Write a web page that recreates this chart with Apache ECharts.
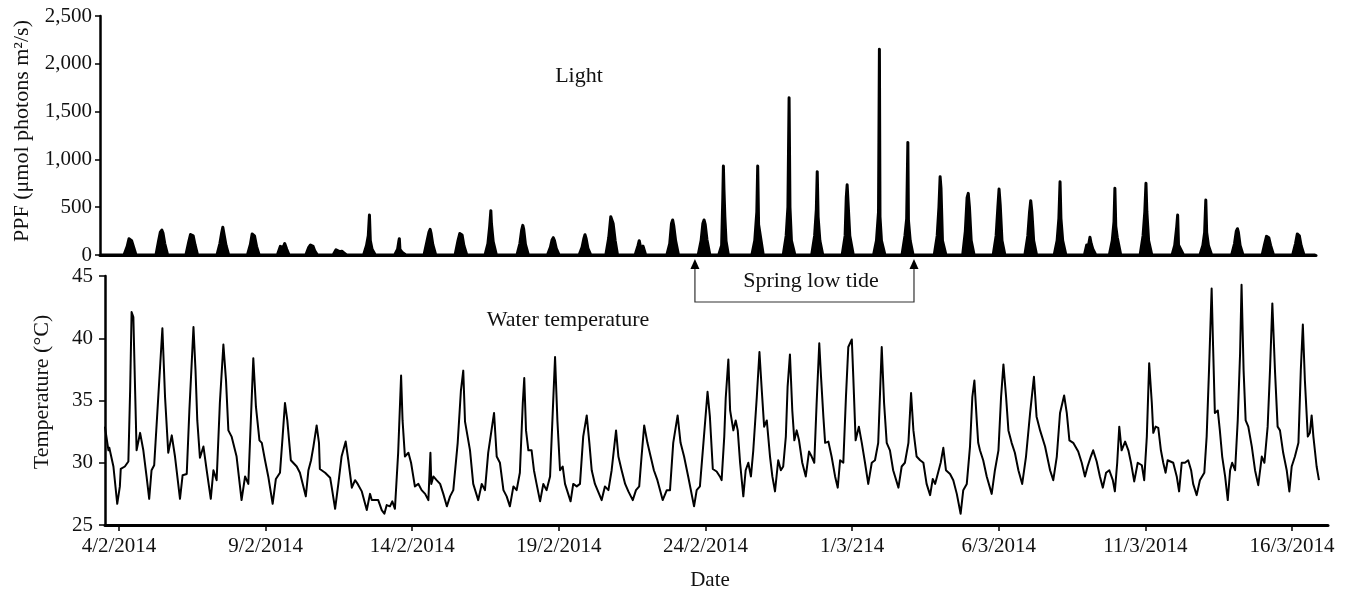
<!DOCTYPE html>
<html><head><meta charset="utf-8">
<script src="https://cdn.jsdelivr.net/npm/echarts/dist/echarts.min.js"></script>
<style>html,body{margin:0;padding:0;background:#fff}#c{width:1359px;height:594px}</style>
</head><body><div id="c"></div>
<script>
// x values are days after 4/2/2014 00:00
const tickDays = [0,5,10,15,20,25,30,35,40];
const tickLabels = ['4/2/2014','9/2/2014','14/2/2014','19/2/2014','24/2/2014','1/3/214','6/3/2014','11/3/2014','16/3/2014'];
const ppfTicks = [0,500,1000,1500,2000,2500];
const tempTicks = [25,30,35,40,45];
const tideDays = [19.64, 27.11];

const lightSeries = [
[-0.64,0],
[0.17,0],[0.28,90],[0.34,170],[0.38,185],[0.43,150],[0.48,100],[0.58,0],
[1.26,0],[1.35,150],[1.41,240],[1.46,261],[1.5,230],[1.56,120],[1.66,0],
[2.28,0],[2.38,140],[2.44,215],[2.48,227],[2.53,200],[2.59,110],[2.68,0],
[3.34,0],[3.44,120],[3.5,230],[3.54,290],[3.58,220],[3.65,100],[3.74,0],
[4.38,0],[4.48,110],[4.54,220],[4.58,237],[4.62,200],[4.69,90],[4.78,0],
[5.4,0],[5.5,90],[5.56,100],[5.6,80],[5.65,120],[5.72,60],[5.8,0],
[6.37,0],[6.47,80],[6.53,105],[6.57,100],[6.62,90],[6.68,40],[6.77,0],
[7.3,0],[7.4,55],[7.46,60],[7.52,35],[7.6,40],[7.68,20],[7.76,0],
[8.34,0],[8.44,100],[8.5,200],[8.54,418],[8.57,150],[8.63,60],[8.74,0],
[9.4,0],[9.5,60],[9.54,140],[9.56,171],[9.58,60],[9.65,30],[9.78,0],
[10.4,0],[10.5,140],[10.57,240],[10.61,269],[10.64,230],[10.7,110],[10.8,0],
[11.46,0],[11.56,150],[11.62,225],[11.66,237],[11.7,210],[11.76,100],[11.86,0],
[12.48,0],[12.58,120],[12.64,300],[12.68,464],[12.7,330],[12.76,140],[12.87,0],
[13.57,0],[13.67,120],[13.73,260],[13.77,310],[13.8,270],[13.86,110],[13.96,0],
[14.61,0],[14.71,80],[14.77,160],[14.81,181],[14.85,150],[14.91,70],[15.01,0],
[15.69,0],[15.79,80],[15.85,170],[15.89,212],[15.93,170],[15.99,70],[16.09,0],
[16.6,0],[16.7,180],[16.77,400],[16.8,418],[16.85,330],[16.92,150],[17.0,0],
[17.6,0],[17.7,100],[17.74,150],[17.77,140],[17.8,60],[17.87,92],[17.96,0],
[18.68,0],[18.78,120],[18.84,330],[18.88,366],[18.92,300],[18.98,150],[19.08,0],
[19.75,0],[19.85,150],[19.91,330],[19.95,366],[19.99,320],[20.05,160],[20.15,0],
[20.45,0],[20.55,100],[20.59,600],[20.61,931],[20.63,680],[20.66,400],[20.7,146],[20.78,0],
[21.58,0],[21.68,150],[21.75,450],[21.78,931],[21.81,320],[21.87,314],[21.97,0],
[22.65,0],[22.75,200],[22.81,500],[22.85,1646],[22.88,500],[22.93,150],[23.05,0],
[23.62,0],[23.72,200],[23.78,480],[23.81,872],[23.84,400],[23.9,150],[24.0,0],
[24.66,0],[24.76,200],[24.8,600],[24.83,735],[24.86,750],[24.92,200],[25.04,0],
[25.73,0],[25.83,150],[25.9,450],[25.93,2151],[25.95,400],[26.0,150],[26.12,0],
[26.7,0],[26.8,200],[26.86,380],[26.9,1178],[26.92,366],[26.98,150],[27.08,0],
[27.8,0],[27.9,200],[27.96,500],[28.0,819],[28.03,700],[28.08,150],[28.2,0],
[28.77,0],[28.86,250],[28.92,600],[28.96,645],[29.0,500],[29.06,150],[29.16,0],
[29.81,0],[29.91,200],[29.97,500],[30.01,690],[30.05,523],[30.11,150],[30.21,0],
[30.89,0],[30.99,200],[31.05,450],[31.09,568],[31.13,450],[31.19,150],[31.29,0],
[31.89,0],[31.99,150],[32.05,384],[32.09,767],[32.12,384],[32.18,150],[32.29,0],
[32.92,0],[33.0,105],[33.05,80],[33.11,185],[33.15,120],[33.21,60],[33.31,0],
[33.77,0],[33.87,150],[33.93,350],[33.96,698],[33.99,300],[34.04,185],[34.16,0],
[34.82,0],[34.92,200],[34.98,450],[35.02,750],[35.05,453],[35.11,150],[35.22,0],
[35.91,0],[36.0,100],[36.07,300],[36.1,418],[36.13,105],[36.19,100],[36.3,0],
[36.86,0],[36.96,100],[37.02,237],[37.06,575],[37.09,237],[37.15,100],[37.26,0],
[37.94,0],[38.04,120],[38.1,250],[38.14,275],[38.17,240],[38.23,100],[38.33,0],
[38.98,0],[39.07,120],[39.13,195],[39.17,199],[39.21,180],[39.27,100],[39.37,0],
[40.02,0],[40.12,120],[40.18,220],[40.22,233],[40.25,200],[40.31,100],[40.41,0],
[40.8,0]
];

const tempSeries = [
[-0.48,32.9],[-0.36,31.0],[-0.33,31.2],[-0.19,29.7],[-0.06,26.7],[0.03,28.1],[0.06,29.5],[0.2,29.7],[0.32,30.1],[0.38,35.8],[0.43,42.1],[0.49,41.7],[0.55,35.8],[0.6,31.0],[0.72,32.4],[0.83,31.0],[0.94,28.9],[1.03,27.1],[1.11,29.4],[1.2,29.8],[1.34,35.3],[1.48,40.8],[1.57,35.3],[1.68,30.8],[1.8,32.2],[1.91,30.5],[2.08,27.1],[2.17,29.0],[2.31,29.1],[2.4,34.2],[2.54,40.9],[2.61,37.4],[2.67,33.4],[2.76,30.4],[2.88,31.3],[2.99,29.4],[3.13,27.1],[3.22,29.4],[3.33,28.6],[3.44,34.8],[3.56,39.5],[3.65,36.6],[3.73,32.6],[3.84,32.1],[4.01,30.5],[4.18,27.0],[4.3,28.9],[4.41,28.3],[4.52,34.8],[4.58,38.4],[4.67,34.5],[4.79,31.8],[4.87,31.6],[4.98,30.2],[5.09,28.9],[5.24,26.7],[5.35,28.7],[5.49,29.2],[5.58,32.1],[5.66,34.8],[5.74,33.4],[5.86,30.2],[6.06,29.7],[6.17,29.2],[6.37,27.3],
[6.46,29.4],[6.55,30.2],[6.63,31.3],[6.74,33.0],[6.82,31.6],[6.85,29.5],[7.03,29.2],[7.2,28.8],[7.25,28.1],[7.37,26.3],[7.48,28.3],[7.59,30.5],[7.73,31.7],[7.82,30.2],[7.94,28.0],[8.05,28.6],[8.14,28.3],[8.28,27.7],[8.45,26.2],[8.56,27.5],[8.62,27.0],[8.84,27.0],[8.96,26.2],[9.05,25.9],[9.13,26.6],[9.24,26.5],[9.32,26.9],[9.41,26.3],[9.52,30.8],[9.62,37.0],[9.67,33.4],[9.75,30.5],[9.87,30.8],[9.96,30.0],[10.09,28.1],[10.21,28.3],[10.32,27.8],[10.44,27.5],[10.55,27.0],[10.62,30.8],[10.65,28.3],[10.72,28.9],[10.83,28.6],[10.95,28.3],[11.06,27.5],[11.18,26.5],[11.29,27.3],[11.4,27.8],[11.55,31.6],[11.66,35.8],[11.74,37.4],[11.8,33.3],[11.97,31.0],[12.08,28.3],[12.25,27.0],[12.37,28.3],[12.48,27.8],[12.59,30.8],[12.79,34.0],[12.88,30.5],[12.99,30.0],[13.11,27.8],[13.22,27.3],[13.33,26.5],[13.45,28.1],
[13.56,27.8],[13.67,29.2],[13.77,34.8],[13.82,36.8],[13.88,32.6],[13.96,31.0],[14.07,31.0],[14.15,29.4],[14.24,28.3],[14.36,26.9],[14.47,28.3],[14.58,27.8],[14.7,28.9],[14.79,34.0],[14.87,38.5],[14.95,33.4],[15.04,29.4],[15.13,29.7],[15.21,28.3],[15.4,26.9],[15.49,28.3],[15.61,28.1],[15.72,28.3],[15.83,32.1],[15.95,33.8],[16.04,31.6],[16.12,29.4],[16.23,28.3],[16.46,27.0],[16.57,28.1],[16.69,27.8],[16.8,29.4],[16.95,32.6],[17.03,30.5],[17.14,29.4],[17.26,28.3],[17.37,27.7],[17.52,27.0],[17.63,27.8],[17.74,28.1],[17.82,30.5],[17.91,33.0],[18.02,31.6],[18.13,30.5],[18.24,29.4],[18.36,28.6],[18.54,27.0],[18.68,27.8],[18.79,27.8],[18.9,31.6],[19.05,33.8],[19.15,31.6],[19.27,30.5],[19.41,28.9],[19.61,26.5],[19.7,27.8],[19.81,28.1],[19.93,31.6],[20.07,35.7],[20.15,33.7],[20.25,29.5],[20.38,29.3],[20.49,28.9],
[20.55,28.6],[20.64,32.1],[20.69,35.2],[20.78,38.3],[20.84,34.2],[20.95,32.6],[21.03,33.4],[21.1,32.6],[21.18,30.0],[21.29,27.3],[21.37,29.4],[21.46,30.0],[21.55,28.9],[21.63,31.0],[21.75,35.3],[21.84,38.9],[21.92,35.8],[22.0,32.9],[22.09,33.4],[22.2,30.5],[22.28,28.9],[22.37,27.7],[22.48,30.2],[22.57,29.4],[22.65,29.7],[22.74,32.1],[22.8,36.1],[22.88,38.7],[22.96,34.2],[23.03,31.8],[23.11,32.6],[23.19,31.8],[23.3,30.0],[23.42,28.9],[23.53,30.9],[23.62,30.5],[23.71,30.0],[23.79,34.8],[23.88,39.6],[23.94,36.9],[24.02,33.7],[24.08,31.6],[24.19,31.7],[24.3,30.5],[24.42,28.9],[24.51,28.0],[24.59,30.2],[24.7,30.0],[24.79,35.3],[24.87,39.3],[24.99,39.9],[25.04,36.9],[25.12,31.8],[25.23,32.9],[25.33,31.6],[25.44,30.0],[25.55,28.3],[25.67,30.0],[25.78,30.2],[25.89,31.6],[26.01,39.3],[26.09,34.8],[26.18,31.6],[26.29,31.0],[26.4,29.4],[26.58,28.0],[26.69,29.7],[26.8,30.0],[26.92,31.6],[27.01,35.6],[27.09,32.6],[27.2,30.5],[27.32,30.2],
[27.43,30.0],[27.54,28.3],[27.66,27.4],[27.75,28.7],[27.83,28.3],[28.02,30.0],[28.11,31.2],[28.2,29.4],[28.34,29.1],[28.45,28.6],[28.57,27.5],[28.7,25.9],[28.79,27.8],[28.91,28.3],[29.02,31.3],[29.1,35.3],[29.17,36.6],[29.25,33.4],[29.3,31.6],[29.36,31.0],[29.47,30.2],[29.59,28.9],[29.76,27.5],[29.87,29.4],[29.99,31.0],[30.08,35.3],[30.16,37.9],[30.25,35.3],[30.33,32.6],[30.44,31.6],[30.55,30.8],[30.67,29.4],[30.8,28.3],[30.93,30.5],[31.07,34.0],[31.2,36.9],[31.29,33.7],[31.41,32.6],[31.58,31.3],[31.75,29.4],[31.86,28.6],[31.98,30.5],[32.09,34.0],[32.23,35.4],[32.32,34.0],[32.41,31.8],[32.54,31.6],[32.71,30.9],[32.83,30.0],[32.94,28.9],[33.03,29.7],[33.14,30.5],[33.22,31.0],[33.34,30.1],[33.45,28.9],[33.55,28.0],[33.66,29.2],[33.77,29.4],[33.89,28.6],[33.96,27.7],[34.04,30.0],[34.11,32.9],[34.19,31.0],[34.31,31.7],[34.42,31.0],
[34.51,30.0],[34.62,28.5],[34.74,30.0],[34.88,29.8],[34.96,28.6],[35.05,32.1],[35.13,38.0],[35.22,34.8],[35.27,32.4],[35.35,32.9],[35.44,32.8],[35.53,31.0],[35.61,30.0],[35.69,29.2],[35.76,30.2],[35.95,30.0],[36.07,28.9],[36.15,27.7],[36.24,30.0],[36.35,30.0],[36.46,30.2],[36.56,29.4],[36.63,28.3],[36.75,27.4],[36.86,28.6],[37.01,29.2],[37.09,32.1],[37.17,37.4],[37.26,44.0],[37.31,39.3],[37.37,34.0],[37.47,34.2],[37.54,32.6],[37.62,30.5],[37.72,28.9],[37.81,27.0],[37.89,29.4],[37.96,30.0],[38.06,29.4],[38.15,33.4],[38.23,38.8],[38.28,44.3],[38.35,37.4],[38.42,33.4],[38.51,32.9],[38.63,31.3],[38.74,29.4],[38.85,28.2],[38.97,30.5],[39.06,30.0],[39.17,32.9],[39.25,37.4],[39.33,42.8],[39.42,37.4],[39.51,32.9],[39.59,32.6],[39.7,30.8],[39.82,29.4],[39.91,27.7],[39.99,29.7],[40.1,30.5],[40.22,31.6],[40.3,37.4],[40.37,41.1],[40.44,36.6],[40.54,32.1],[40.61,32.4],[40.67,33.8],[40.73,32.1],[40.84,29.7],[40.92,28.6]
];

const font = "'Liberation Serif','Times New Roman',serif";
const chart = echarts.init(document.getElementById('c'), null, {renderer:'canvas'});
const comma = v => String(v).replace(/\B(?=(\d{3})+(?!\d))/g, ',');
const lbl = {fontSize:21, color:'#111', fontFamily:font};

chart.setOption({
  animation:false,
  backgroundColor:'#fff',
  textStyle:{fontFamily:font},
  grid:[
    {left:100, top:16, right:43, height:239},
    {left:105, top:276, right:31, height:249}
  ],
  xAxis:[
    {gridIndex:0, type:'value', min:-0.648, max:40.818,
     axisLine:{lineStyle:{color:'#000', width:3}}, axisTick:{show:false}, axisLabel:{show:false}, splitLine:{show:false}},
    {gridIndex:1, type:'value', min:-0.477, max:41.228,
     axisLine:{lineStyle:{color:'#000', width:3}},
     axisTick:{show:true, customValues:tickDays, length:6, lineStyle:{color:'#000', width:1.5}},
     axisLabel:Object.assign({customValues:tickDays, margin:11, formatter:v => tickLabels[tickDays.indexOf(Math.round(v))]}, lbl),
     splitLine:{show:false}}
  ],
  yAxis:[
    {gridIndex:0, type:'value', min:ppfTicks[0], max:ppfTicks[ppfTicks.length-1], interval:500,
     axisLine:{show:true, onZero:false, lineStyle:{color:'#000', width:2.5}},
     axisTick:{show:true, length:5, lineStyle:{color:'#000', width:1.5}},
     axisLabel:Object.assign({margin:8, formatter:comma}, lbl), splitLine:{show:false}},
    {gridIndex:1, type:'value', min:tempTicks[0], max:tempTicks[tempTicks.length-1], interval:5,
     axisLine:{show:true, onZero:false, lineStyle:{color:'#000', width:2.5}},
     axisTick:{show:true, length:6, lineStyle:{color:'#000', width:1.5}},
     axisLabel:Object.assign({margin:12}, lbl), splitLine:{show:false}}
  ],
  series:[
    {type:'line', name:'Light', xAxisIndex:0, yAxisIndex:0, data:lightSeries, showSymbol:false, symbol:'none',
     lineStyle:{color:'#000', width:3, join:'round'}, areaStyle:{color:'#000', opacity:1}, z:3},
    {type:'line', name:'Water temperature', xAxisIndex:1, yAxisIndex:1, data:tempSeries, showSymbol:false, symbol:'none',
     lineStyle:{color:'#000', width:2, join:'round'}, z:3}
  ]
});

const xa = tideDays.map(d => chart.convertToPixel({xAxisIndex:1}, d));
const txt = (t, x, y, size, rot) => ({type:'text', x:x, y:y, rotation:rot||0, z:10,
  style:{text:t, fontSize:size, fontFamily:font, fill:'#111', align:'center', verticalAlign:'middle'}});
const lineTop = 268, lineBot = 302;
chart.setOption({
  graphic:[
    txt('PPF (μmol photons m²/s)', 22, 131, 22, Math.PI/2),
    txt('Temperature (°C)', 42, 392, 22, Math.PI/2),
    txt('Light', 579, 76, 22),
    txt('Water temperature', 568, 320, 22),
    txt('Spring low tide', 811, 281, 22),
    txt('Date', 710, 580, 21),
    {type:'polyline', z:10, shape:{points:[[xa[0],lineTop],[xa[0],lineBot],[xa[1],lineBot],[xa[1],lineTop]]},
     style:{stroke:'#333', lineWidth:1.2, fill:null}},
    {type:'polygon', z:10, shape:{points:[[xa[0]-4.5,269],[xa[0],259],[xa[0]+4.5,269]]}, style:{fill:'#000'}},
    {type:'polygon', z:10, shape:{points:[[xa[1]-4.5,269],[xa[1],259],[xa[1]+4.5,269]]}, style:{fill:'#000'}}
  ]
});
</script>
</body></html>
